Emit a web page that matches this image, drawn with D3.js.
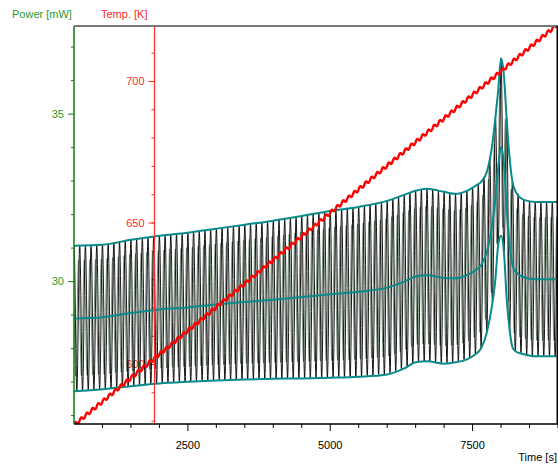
<!DOCTYPE html>
<html><head><meta charset="utf-8">
<script src="https://cdn.jsdelivr.net/npm/d3@7"></script>
<style>
html,body{margin:0;padding:0;background:#fff;}
text{font-family:"Liberation Sans",Arial,sans-serif;}
</style></head>
<body><svg id="c" width="558" height="470"></svg>
<script>
// ---- data ----
const envTime = [500,1000,1500,2000,2500,3000,3500,4000,4500,5000,5500,6000,6300,6500,6700,7000,7200,7400,7550,7650,7750,7850,7900,7950,8000,8050,8100,8150,8200,8250,8400,8600,9000];
const upperPower = [31.07,31.10,31.25,31.37,31.46,31.58,31.70,31.82,31.96,32.11,32.23,32.41,32.59,32.71,32.77,32.68,32.62,32.71,32.86,32.98,33.27,34.14,34.88,35.71,36.67,36.16,34.82,33.69,32.98,32.71,32.44,32.38,32.38];
const lowerPower = [26.73,26.79,26.88,26.96,27.01,27.05,27.08,27.10,27.11,27.13,27.16,27.23,27.41,27.59,27.62,27.55,27.59,27.68,27.83,28.01,28.48,29.38,30.06,31.10,31.37,30.89,29.46,28.57,28.04,27.92,27.83,27.77,27.77];
const meanPower = [28.90,28.94,29.06,29.17,29.23,29.32,29.39,29.46,29.54,29.62,29.70,29.82,30.00,30.15,30.19,30.11,30.10,30.19,30.34,30.49,30.88,31.76,32.47,33.41,34.02,33.53,32.14,31.13,30.51,30.31,30.13,30.07,30.07];
const tempTime = [500,2500,5000,7500,9000];
const tempBase = [578.6,612.0,653.6,695.3,720.3];
const modPeriod = 100;      // s, modulation period
const tempAmplitude = 0.6;  // K, modulation amplitude
const timeTicks = [2500,5000,7500];
const powerTicks = [30,35];
const tempTicks = [600,650,700];

// ---- scales ----
const L=74, R=558, T=26, B=424;
const x = d3.scaleLinear().domain([500,9000]).range([L,R]);
const yP = d3.scaleLinear().domain([25.75,37.63]).range([B,T]);
const yT = d3.scaleLinear().domain([579.0,719.6]).range([B,T]);
const upAt = d3.scaleLinear().domain(envTime).range(upperPower);
const loAt = d3.scaleLinear().domain(envTime).range(lowerPower);
const baseAt = d3.scaleLinear().domain(tempTime).range(tempBase);

const svg = d3.select("#c");
svg.append("defs").append("clipPath").attr("id","clip")
  .append("rect").attr("x",L).attr("y",T).attr("width",R-L).attr("height",B-T);

// red temperature axis
const redX = 154.5;
const minorT = d3.range(580,720,10);
const gT = svg.append("g").attr("transform",`translate(${redX},0)`);
gT.selectAll("line.mt").data(minorT).join("line")
  .attr("x1",-3).attr("x2",0).attr("y1",d=>yT(d)).attr("y2",d=>yT(d)).attr("stroke","#ff2a2a");
gT.selectAll("line.Mt").data(tempTicks).join("line")
  .attr("x1",-6).attr("x2",0).attr("y1",d=>yT(d)).attr("y2",d=>yT(d)).attr("stroke","#ff2a2a");
gT.selectAll("text").data(tempTicks).join("text")
  .attr("x",-10).attr("y",d=>yT(d)).attr("dy","0.35em").attr("text-anchor","end")
  .attr("fill","#ff2a2a").attr("font-size",11).text(d=>d);

// modulated signal
const plot = svg.append("g").attr("clip-path","url(#clip)");
const ts = d3.range(500,9001,4);
const sig = (t,k,ph)=>{const u=upAt(t),l=loAt(t);return (u+l)/2+k*(u-l)/2*Math.cos(2*Math.PI*((t-500)/modPeriod+ph));};
plot.append("path").datum(ts)
  .attr("d",d3.line().x(t=>x(t)).y(t=>yP(sig(t,0.8,0.2))))
  .attr("fill","none").attr("stroke","#4f6e55").attr("stroke-width",0.9).attr("opacity",0.85);
plot.append("path").datum(ts)
  .attr("d",d3.line().x(t=>x(t)).y(t=>yP(sig(t,1,0))))
  .attr("fill","none").attr("stroke","#000").attr("stroke-width",0.9);

// red axis line on top of signal
svg.append("line").attr("x1",redX).attr("x2",redX).attr("y1",T).attr("y2",B).attr("stroke","#ff2a2a").attr("stroke-width",1.2);

// envelopes
const envLine = arr => d3.line().x((d,i)=>x(envTime[i])).y(d=>yP(d)).curve(d3.curveMonotoneX)(arr);
[upperPower,lowerPower,meanPower].forEach(a=>{
  plot.append("path").attr("d",envLine(a)).attr("fill","none").attr("stroke","#0a8a8a").attr("stroke-width",2);
});

// temperature
const tts = d3.range(500,9001,4);
plot.append("path").datum(tts)
  .attr("d",d3.line().x(t=>x(t)).y(t=>yT(baseAt(t)+tempAmplitude*Math.sin(2*Math.PI*(t-500)/modPeriod))))
  .attr("fill","none").attr("stroke","#ff0000").attr("stroke-width",2.4);

// x axis
const minorX = d3.range(1000,9001,500).filter(d=>!timeTicks.includes(d));
const gX = svg.append("g").attr("transform",`translate(0,${B})`);
gX.selectAll("line.m").data(minorX).join("line")
  .attr("x1",d=>x(d)).attr("x2",d=>x(d)).attr("y1",0).attr("y2",4).attr("stroke","#000");
gX.selectAll("line.M").data(timeTicks).join("line")
  .attr("x1",d=>x(d)).attr("x2",d=>x(d)).attr("y1",0).attr("y2",7).attr("stroke","#000");
gX.selectAll("text").data(timeTicks).join("text")
  .attr("x",d=>x(d)).attr("y",25).attr("text-anchor","middle").attr("font-size",11).attr("fill","#000").text(d=>d);
gX.append("line").attr("x1",L).attr("x2",R).attr("y1",0).attr("y2",0).attr("stroke","#000").attr("stroke-width",1.5);

// left power axis
const minorP = d3.range(26,38,1).filter(d=>!powerTicks.includes(d));
const gP = svg.append("g").attr("transform",`translate(${L},0)`);
gP.selectAll("line.m").data(minorP).join("line")
  .attr("x1",-3).attr("x2",0).attr("y1",d=>yP(d)).attr("y2",d=>yP(d)).attr("stroke","#117a11");
gP.selectAll("line.M").data(powerTicks).join("line")
  .attr("x1",-6).attr("x2",0).attr("y1",d=>yP(d)).attr("y2",d=>yP(d)).attr("stroke","#117a11");
gP.selectAll("text").data(powerTicks).join("text")
  .attr("x",-10).attr("y",d=>yP(d)).attr("dy","0.35em").attr("text-anchor","end")
  .attr("fill","#2a9a2a").attr("font-size",11).text(d=>d);
gP.append("line").attr("x1",0).attr("x2",0).attr("y1",T).attr("y2",B).attr("stroke","#117a11").attr("stroke-width",1.5);

// frame
svg.append("line").attr("x1",L).attr("x2",R).attr("y1",T).attr("y2",T).attr("stroke","#777").attr("stroke-width",2);
svg.append("line").attr("x1",R-0.75).attr("x2",R-0.75).attr("y1",T).attr("y2",B).attr("stroke","#000").attr("stroke-width",1.5);

// titles
svg.append("text").attr("x",12).attr("y",18).attr("fill","#2a9a2a").attr("font-size",11).text("Power [mW]");
svg.append("text").attr("x",101).attr("y",18).attr("fill","#ff2a2a").attr("font-size",11).text("Temp. [K]");
svg.append("text").attr("x",557).attr("y",461).attr("text-anchor","end").attr("fill","#000").attr("font-size",11).text("Time [s]");
</script></body></html>
